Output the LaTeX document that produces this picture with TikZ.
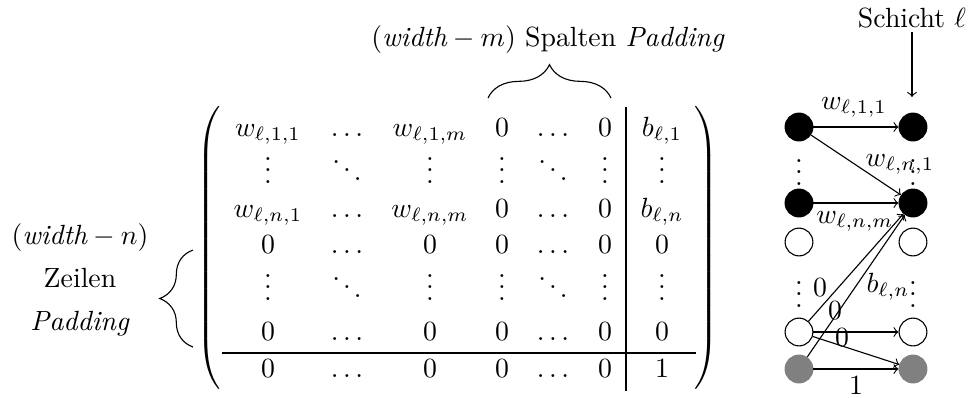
\documentclass[tikz,border=0pt]{standalone}
\usetikzlibrary{decorations.pathreplacing}
\newcommand{\myvdots}{\vbox{\baselineskip4pt\lineskiplimit0pt\hbox{.}\hbox{.}\hbox{.}}}
\newcommand{\myddots}{\mathinner{\mkern1mu\raise7pt\hbox{.}\mkern2mu\raise4pt\hbox{.}\mkern2mu\raise1pt\hbox{.}\mkern1mu}}
\begin{document}
\begin{tikzpicture}[x=0.36pt,y=-0.36pt,
  ent/.style={anchor=base,inner sep=0pt},
  lbl/.style={anchor=base,inner sep=0pt},
  neur/.style={circle,draw,inner sep=0pt,minimum size=10pt},
  bn/.style={neur,fill=black},
  wn/.style={neur,fill=white},
  gn/.style={neur,draw=gray,fill=gray},
  arr/.style={->},
  brc/.style={decorate,decoration={brace,amplitude=12pt}}]
\useasboundingbox (0,0) rectangle (970,397);

% ---------- matrix entries ----------
\foreach \x/\t [count=\c] in {268/{w_{\ell,1,1}},347/{\ldots},430/{w_{\ell,1,m}},502/0,553/{\ldots},605/0,662/{b_{\ell,1}}}
  \node[ent] (r1c\c) at (\x,136) {$\t$};
\foreach \x/\t [count=\c] in {268/{\myvdots},347/{\myddots},430/{\myvdots},502/{\myvdots},553/{\myddots},605/{\myvdots},662/{\myvdots}}
  \node[ent] (r2c\c) at (\x,183) {$\t$};
\foreach \x/\t [count=\c] in {268/{w_{\ell,n,1}},347/{\ldots},430/{w_{\ell,n,m}},502/0,553/{\ldots},605/0,662/{b_{\ell,n}}}
  \node[ent] (r3c\c) at (\x,217) {$\t$};
\foreach \x/\t [count=\c] in {268/0,347/{\ldots},430/0,502/0,553/{\ldots},605/0,662/0}
  \node[ent] (r4c\c) at (\x,253) {$\t$};
\foreach \x/\t [count=\c] in {268/{\myvdots},347/{\myddots},430/{\myvdots},502/{\myvdots},553/{\myddots},605/{\myvdots},662/{\myvdots}}
  \node[ent] (r5c\c) at (\x,300) {$\t$};
\foreach \x/\t [count=\c] in {268/0,347/{\ldots},430/0,502/0,553/{\ldots},605/0,662/0}
  \node[ent] (r6c\c) at (\x,340) {$\t$};
\foreach \x/\t [count=\c] in {268/0,347/{\ldots},430/0,502/0,553/{\ldots},605/0,662/1}
  \node[ent] (r7c\c) at (\x,377) {$\t$};

% parentheses
\node[inner sep=0pt] (lpar) at (210,249) {$\left(\vrule height 49.5pt depth 49.5pt width 0pt\right.$};
\node[inner sep=0pt] (rpar) at (705,249) {$\left.\vrule height 49.5pt depth 49.5pt width 0pt\right)$};

% separating rules
\coordinate (hla) at (222,353);
\coordinate (hlb) at (696,353);
\draw (hla) -- (hlb);
\coordinate (vla) at (626,107);
\coordinate (vlb) at (626,391);
\draw (vla) -- (vlb);

% braces and their labels
\coordinate (tba) at (488,98);
\coordinate (tbb) at (611,98);
\draw[brc] (tba) -- (tbb);
\node[lbl] (collbl) at (548,46) {$(\textit{width}-m)$ Spalten \textit{Padding}};
\coordinate (lba) at (193,347);
\coordinate (lbb) at (193,250);
\draw[brc] (lba) -- (lbb);
\node[align=center,inner sep=0pt] (rowlbl) at (80,280) {$(\textit{width}-n)$\\[3.5pt]Zeilen\\[3.5pt]\textit{Padding}};

% ---------- network ----------
\node[bn] (a1) at (799,127) {};
\node[bn] (a2) at (913,127) {};
\node[bn] (b1) at (799,203) {};
\node[bn] (b2) at (913,203) {};
\node[wn] (c1) at (799,242) {};
\node[wn] (c2) at (913,242) {};
\node[wn] (d1) at (799,332) {};
\node[wn] (d2) at (913,332) {};
\node[gn] (e1) at (799,369) {};
\node[gn] (e2) at (913,369) {};

\node[ent] (va1) at (799,185) {$\myvdots$};
\node[ent] (va2) at (913,185) {$\myvdots$};
\node[ent] (vb1) at (799,307) {$\myvdots$};
\node[ent] (vb2) at (913,307) {$\myvdots$};

\draw[arr] (a1) -- (a2);
\draw[arr] (a1) -- (b2);
\draw[arr] (b1) -- (b2);
\draw[arr] (d1) -- (b2);
\draw[arr] (e1) -- (b2);
\draw[arr] (d1) -- (d2);
\draw[arr] (d1) -- (e2);
\draw[arr] (e1) -- (e2);

\node[lbl] (lw11) at (854,109) {$w_{\ell,1,1}$};
\node[lbl] (lwn1) at (900,166) {$w_{\ell,n,1}$};
\node[lbl] (lwnm) at (855,223) {$w_{\ell,n,m}$};
\node[lbl] (lz1) at (820,296) {$0$};
\node[lbl] (lz2) at (835,319) {$0$};
\node[lbl] (lz3) at (842,346) {$0$};
\node[lbl] (lb) at (888,292) {$b_{\ell,n}$};
\node[lbl] (lone) at (856,394) {$1$};

\node[lbl,inner sep=1.5pt] (sch) at (912,27) {Schicht $\ell$};
\coordinate (schend) at (912,97);
\draw[arr] (sch) -- (schend);
\end{tikzpicture}
\end{document}
